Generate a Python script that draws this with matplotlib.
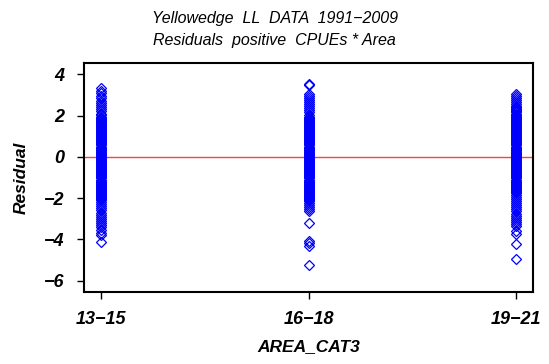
import matplotlib
matplotlib.use("Agg")
import matplotlib.pyplot as plt

# categories de la zone et residus
areas = ["13\u221215", "16\u221218", "19\u221221"]

resid_13_15 = [3.32, 3.2, 3.08, 2.95, 2.85, 2.72, 2.6, 2.5, 2.4, 2.3, 2.2, 2.1, 2.02,
               1.95, 1.9, 1.85, 1.8, 1.75, 1.7, 1.65, 1.6, 1.55, 1.5, 1.45, 1.4, 1.35,
               1.3, 1.25, 1.2, 1.15, 1.1, 1.05, 1.0, 0.95, 0.9, 0.85, 0.8, 0.75, 0.7,
               0.65, 0.6, 0.55, 0.5, 0.45, 0.4, 0.35, 0.3, 0.25, 0.2, 0.15, 0.1, 0.05,
               0.0, -0.05, -0.1, -0.15, -0.2, -0.25, -0.3, -0.35, -0.4, -0.45, -0.5,
               -0.55, -0.6, -0.65, -0.7, -0.75, -0.8, -0.85, -0.9, -0.95, -1.0, -1.05,
               -1.1, -1.15, -1.2, -1.25, -1.3, -1.35, -1.4, -1.45, -1.5, -1.55, -1.6,
               -1.65, -1.7, -1.75, -1.8, -1.85, -1.9, -1.95, -2.0, -2.05, -2.1, -2.2,
               -2.3, -2.4, -2.5, -2.6, -2.7, -2.8, -2.9, -3.0, -3.1, -3.2, -3.3, -3.4,
               -3.55, -3.7, -3.8, -4.15]
resid_16_18 = [3.55, 3.48, 3.05, 2.95, 2.85, 2.75, 2.65, 2.55, 2.45, 2.35, 2.25, 2.15,
               2.05, 1.95, 1.9, 1.85, 1.8, 1.75, 1.7, 1.65, 1.6, 1.55, 1.5, 1.45, 1.4,
               1.35, 1.3, 1.25, 1.2, 1.15, 1.1, 1.05, 1.0, 0.95, 0.9, 0.85, 0.8, 0.75,
               0.7, 0.65, 0.6, 0.55, 0.5, 0.45, 0.4, 0.35, 0.3, 0.25, 0.2, 0.15, 0.1,
               0.05, 0.0, -0.05, -0.1, -0.15, -0.2, -0.25, -0.3, -0.35, -0.4, -0.45,
               -0.5, -0.55, -0.6, -0.65, -0.7, -0.75, -0.8, -0.85, -0.9, -0.95, -1.0,
               -1.05, -1.1, -1.15, -1.2, -1.25, -1.3, -1.35, -1.4, -1.45, -1.5, -1.55,
               -1.6, -1.65, -1.7, -1.75, -1.8, -1.85, -1.9, -1.95, -2.0, -2.05, -2.1,
               -2.15, -2.25, -2.35, -2.45, -2.55, -2.62, -3.2, -4.1, -4.18, -4.3, -5.25]
resid_19_21 = [3.05, 2.95, 2.85, 2.75, 2.65, 2.55, 2.45, 2.4, 2.35, 2.3, 2.25, 2.2,
               2.15, 2.1, 2.05, 2.0, 1.95, 1.9, 1.85, 1.8, 1.75, 1.7, 1.65, 1.6, 1.55,
               1.5, 1.45, 1.4, 1.35, 1.3, 1.25, 1.2, 1.15, 1.1, 1.05, 1.0, 0.95, 0.9,
               0.85, 0.8, 0.75, 0.7, 0.65, 0.6, 0.55, 0.5, 0.45, 0.4, 0.35, 0.3, 0.25,
               0.2, 0.15, 0.1, 0.05, 0.0, -0.05, -0.1, -0.15, -0.2, -0.25, -0.3, -0.35,
               -0.4, -0.45, -0.5, -0.55, -0.6, -0.65, -0.7, -0.75, -0.8, -0.85, -0.9,
               -0.95, -1.0, -1.05, -1.1, -1.15, -1.2, -1.25, -1.3, -1.35, -1.4, -1.45,
               -1.5, -1.55, -1.6, -1.65, -1.7, -1.75, -1.85, -1.95, -2.05, -2.15, -2.25,
               -2.35, -2.45, -2.55, -2.65, -2.75, -2.85, -2.95, -3.05, -3.15, -3.25,
               -3.35, -3.6, -3.75, -4.25, -4.95]

residuals = [resid_13_15, resid_16_18, resid_19_21]
y_ticks = [-6, -4, -2, 0, 2, 4]

font = ["Liberation Sans", "DejaVu Sans"]

fig = plt.figure(figsize=(5.49, 3.64), dpi=100)
ax = fig.add_axes([0.153, 0.198, 0.818, 0.629])

ax.axhline(0, color="#ff4040", lw=1.0, zorder=1)
for i in range(len(areas)):
    ax.plot([i] * len(residuals[i]), residuals[i], linestyle="none", marker="D",
            ms=4.8, mfc="none", mec="blue", mew=0.9, zorder=2)

ax.set_xlim(-0.082, 2.082)
ax.set_ylim(-6.55, 4.55)
ax.set_xticks(range(len(areas)))
ax.set_xticklabels(areas)
ax.set_yticks(y_ticks)

for s in ax.spines.values():
    s.set_linewidth(1.5)
ax.tick_params(direction="out", length=5, width=1.0, pad=9)
for lab in ax.get_xticklabels() + ax.get_yticklabels():
    lab.set_family(font)
    lab.set_style("italic")
    lab.set_weight("bold")
    lab.set_fontsize(13)

ax.set_ylabel("Residual", family=font, style="italic", weight="bold", fontsize=12.5, labelpad=11)
ax.set_xlabel("AREA_CAT3", family=font, style="italic", weight="bold", fontsize=12.5, labelpad=8)

fig.text(0.5, 0.95, "Yellowedge  LL  DATA  1991\u22122009", ha="center", va="center",
         family=font, style="italic", fontsize=11.5)
fig.text(0.5, 0.888, "Residuals  positive  CPUEs * Area", ha="center", va="center",
         family=font, style="italic", fontsize=11.5)

fig.savefig("out.png", dpi=100)
